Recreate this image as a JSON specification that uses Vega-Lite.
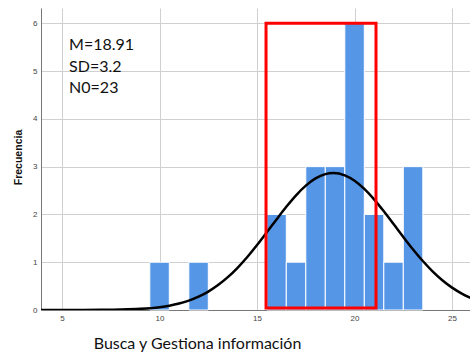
{
  "$schema": "https://vega.github.io/schema/vega-lite/v6.json",
  "autosize": "none",
  "width": 429,
  "height": 302,
  "padding": {"left": 41, "top": 8, "right": 0, "bottom": 45},
  "background": "white",
  "config": {
    "view": {"stroke": null},
    "axis": {"labelFont": "Liberation Sans", "labelFontSize": 8, "labelColor": "#444444", "ticks": false, "gridColor": "#d0d0d0", "gridWidth": 1, "domainColor": "#777777", "labelPadding": 4}
  },
  "datasets": {
    "bars": [
      {"lo": 9.5, "hi": 10.5, "count": 1},
      {"lo": 11.5, "hi": 12.5, "count": 1},
      {"lo": 15.5, "hi": 16.5, "count": 2},
      {"lo": 16.5, "hi": 17.5, "count": 1},
      {"lo": 17.5, "hi": 18.5, "count": 3},
      {"lo": 18.5, "hi": 19.5, "count": 3},
      {"lo": 19.5, "hi": 20.5, "count": 6},
      {"lo": 20.5, "hi": 21.5, "count": 2},
      {"lo": 21.5, "hi": 22.5, "count": 1},
      {"lo": 22.5, "hi": 23.5, "count": 3}
    ],
    "curve": [
      {"x": 3.9, "y": 0.00005}, {"x": 5, "y": 0.0002}, {"x": 6, "y": 0.0008}, {"x": 7, "y": 0.0028},
      {"x": 8, "y": 0.0086}, {"x": 9, "y": 0.0237}, {"x": 10, "y": 0.0594}, {"x": 10.5, "y": 0.0907},
      {"x": 11, "y": 0.1351}, {"x": 11.5, "y": 0.1964}, {"x": 12, "y": 0.2786}, {"x": 12.5, "y": 0.3856},
      {"x": 13, "y": 0.521}, {"x": 13.5, "y": 0.6867}, {"x": 14, "y": 0.8834}, {"x": 14.5, "y": 1.1093},
      {"x": 15, "y": 1.359}, {"x": 15.5, "y": 1.625}, {"x": 16, "y": 1.896}, {"x": 16.5, "y": 2.1591},
      {"x": 17, "y": 2.3994}, {"x": 17.5, "y": 2.6018}, {"x": 18, "y": 2.7535}, {"x": 18.5, "y": 2.8435},
      {"x": 18.91, "y": 2.867}, {"x": 19.5, "y": 2.8186}, {"x": 20, "y": 2.7053}, {"x": 20.5, "y": 2.5342},
      {"x": 21, "y": 2.3163}, {"x": 21.5, "y": 2.0662}, {"x": 22, "y": 1.7988}, {"x": 22.5, "y": 1.5281},
      {"x": 23, "y": 1.2669}, {"x": 23.5, "y": 1.025}, {"x": 24, "y": 0.8091}, {"x": 24.5, "y": 0.6233},
      {"x": 25, "y": 0.4688}, {"x": 25.5, "y": 0.344}, {"x": 26, "y": 0.2463}
    ],
    "box": [{"x1": 15.46, "x2": 21.1, "y1": 0.04, "y2": 6.0}],
    "labels": [
      {"x": 5.36, "y": 5.54, "t": "M=18.91"},
      {"x": 5.36, "y": 5.09, "t": "SD=3.2"},
      {"x": 5.36, "y": 4.64, "t": "N0=23"}
    ]
  },
  "layer": [
    {
      "data": {"name": "bars"},
      "mark": {"type": "rect", "color": "#5596e6", "stroke": "white", "strokeWidth": 1},
      "encoding": {
        "x": {"field": "lo", "type": "quantitative",
          "scale": {"domain": [3.92, 25.92], "nice": false, "zero": false},
          "axis": {"values": [5, 10, 15, 20, 25], "title": "Busca y Gestiona información", "titleFont": "Lato", "titleFontSize": 16, "titleFontWeight": "normal", "titleColor": "#111111", "titleX": 156, "titleY": 33, "titleAlign": "center", "titleBaseline": "middle"}},
        "x2": {"field": "hi"},
        "y": {"field": "count", "type": "quantitative",
          "scale": {"domain": [0, 6.32], "nice": false},
          "axis": {"values": [0, 1, 2, 3, 4, 5, 6], "title": "Frecuencia", "titleFont": "Liberation Sans", "titleFontSize": 10.5, "titleFontWeight": "bold", "titleColor": "#111111", "titleX": -23, "titleY": 149, "titleAlign": "center", "titleBaseline": "middle", "titleAngle": -90}},
        "y2": {"datum": 0}
      }
    },
    {
      "data": {"name": "curve"},
      "mark": {"type": "line", "color": "black", "strokeWidth": 2.5, "clip": true, "interpolate": "monotone"},
      "encoding": {
        "x": {"field": "x", "type": "quantitative"},
        "y": {"field": "y", "type": "quantitative"}
      }
    },
    {
      "data": {"name": "box"},
      "mark": {"type": "rect", "filled": false, "stroke": "#ff0000", "strokeWidth": 3},
      "encoding": {
        "x": {"field": "x1", "type": "quantitative"},
        "x2": {"field": "x2"},
        "y": {"field": "y1", "type": "quantitative"},
        "y2": {"field": "y2"}
      }
    },
    {
      "data": {"name": "labels"},
      "mark": {"type": "text", "align": "left", "baseline": "middle", "font": "Lato", "fontSize": 16, "color": "#111111"},
      "encoding": {
        "x": {"field": "x", "type": "quantitative"},
        "y": {"field": "y", "type": "quantitative"},
        "text": {"field": "t"}
      }
    }
  ]
}
